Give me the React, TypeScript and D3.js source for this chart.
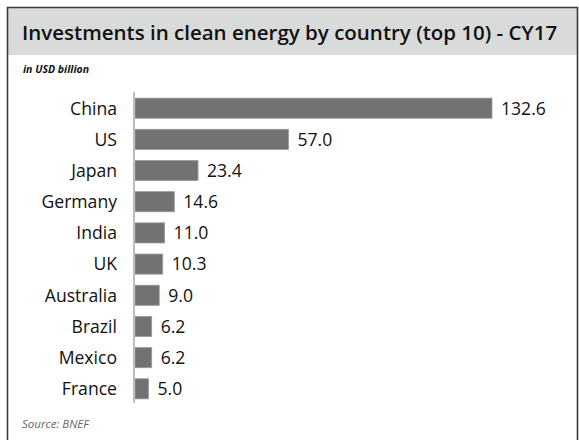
import * as d3 from "d3";

const countries = ["China", "US", "Japan", "Germany", "India", "UK", "Australia", "Brazil", "Mexico", "France"];
const investments = [132.6, 57.0, 23.4, 14.6, 11.0, 10.3, 9.0, 6.2, 6.2, 5.0];

const W = 579;
const H = 440;
const font = "'Open Sans', Lato, sans-serif";

export default function App() {
  const x = d3.scaleLinear().domain([0, 132.6]).range([135, 492]);
  const y = d3.scaleBand<string>().domain(countries).range([92.5, 404.5]).paddingInner(0.355).paddingOuter(0.18);

  return (
    <svg width={W} height={H} style={{ position: "absolute", left: 0, top: 0 }} fontFamily={font}>
      <rect x={0} y={0} width={W} height={H} fill="white" />
      {/* header band */}
      <rect x={8} y={8} width={570} height={47} fill="#d9dbdb" />
      <path d={`M7.5,${H} V7.5 H577.5 V${H}`} fill="none" stroke="#3a3a3a" strokeWidth={1.6} />
      <text x={22} y={40} fontSize={20.5} fontWeight={600} fill="#111">
        Investments in clean energy by country (top 10) - CY17
      </text>
      <text x={23} y={73} fontSize={10.5} fontWeight={700} fontStyle="italic" fill="#111">
        in USD billion
      </text>

      {countries.map((c, i) => (
        <g key={c}>
          <rect
            x={x(0)}
            y={y(c)!}
            width={x(investments[i]) - x(0)}
            height={y.bandwidth()}
            fill="#727272"
            stroke="#9a9a9a"
            strokeWidth={0.8}
          />
          <text x={117} y={y(c)! + y.bandwidth() / 2} dy="0.36em" textAnchor="end" fontSize={17.6} fill="#111">
            {c}
          </text>
          <text x={x(investments[i]) + 9} y={y(c)! + y.bandwidth() / 2} dy="0.36em" fontSize={17.6} fill="#111">
            {investments[i].toFixed(1)}
          </text>
        </g>
      ))}
      <line x1={134} x2={134} y1={92} y2={403} stroke="#bdbdbd" strokeWidth={2} />

      <text x={22} y={428} fontSize={11.5} fontStyle="italic" fill="#666">
        Source: BNEF
      </text>
    </svg>
  );
}
